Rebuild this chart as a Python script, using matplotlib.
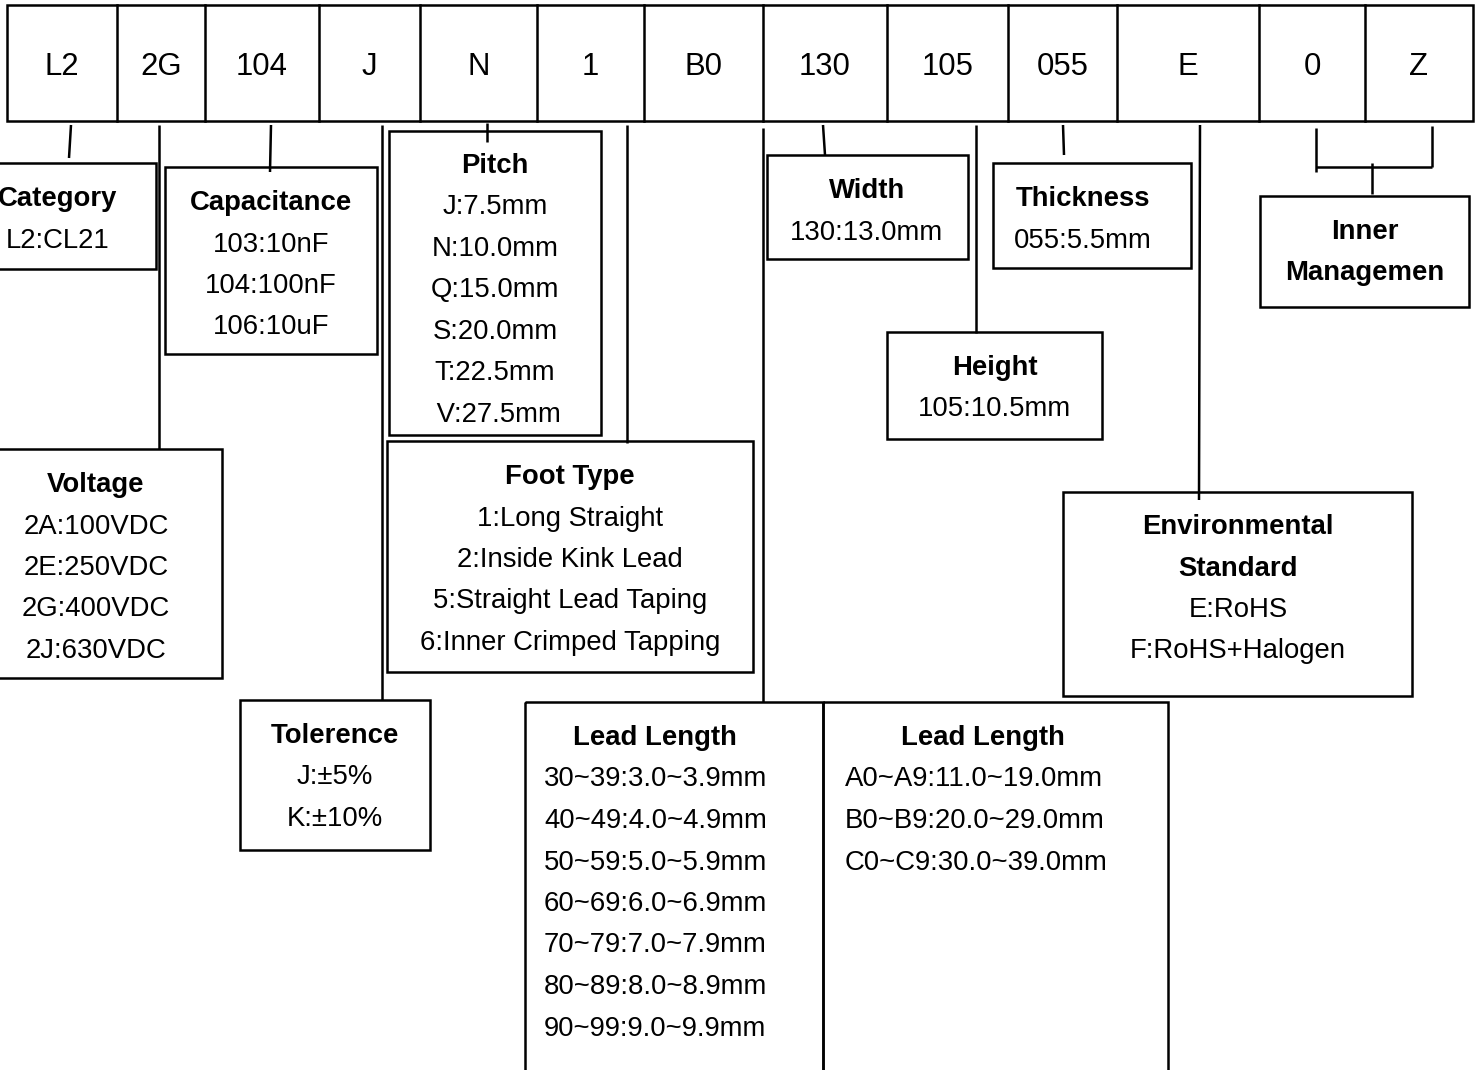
import matplotlib
matplotlib.use("Agg")
import matplotlib.pyplot as plt
from matplotlib.patches import Rectangle

plt.rcParams['font.family'] = ['Liberation Sans', 'DejaVu Sans']

# part number code, one entry per cell of the top row
codes = ["L2", "2G", "104", "J", "N", "1", "B0", "130", "105", "055", "E", "0", "Z"]

# legend boxes: titles and entries
category_title = ["Category"]
category_items = ["L2:CL21"]
capacitance_title = ["Capacitance"]
capacitance_items = ["103:10nF", "104:100nF", "106:10uF"]
voltage_title = ["Voltage"]
voltage_items = ["2A:100VDC", "2E:250VDC", "2G:400VDC", "2J:630VDC"]
pitch_title = ["Pitch"]
pitch_items = ["J:7.5mm", "N:10.0mm", "Q:15.0mm", "S:20.0mm", "T:22.5mm", " V:27.5mm"]
foot_title = ["Foot Type"]
foot_items = ["1:Long Straight", "2:Inside Kink Lead", "5:Straight Lead Taping",
              "6:Inner Crimped Tapping"]
tolerance_title = ["Tolerence"]
tolerance_items = ["J:\u00b15%", "K:\u00b110%"]
lead_title = ["Lead Length"]
lead_short_items = ["30~39:3.0~3.9mm", "40~49:4.0~4.9mm", "50~59:5.0~5.9mm",
                    "60~69:6.0~6.9mm", "70~79:7.0~7.9mm", "80~89:8.0~8.9mm",
                    "90~99:9.0~9.9mm"]
lead_long_items = ["A0~A9:11.0~19.0mm", "B0~B9:20.0~29.0mm", "C0~C9:30.0~39.0mm"]
width_title = ["Width"]
width_items = ["130:13.0mm"]
thickness_title = ["Thickness"]
thickness_items = ["055:5.5mm"]
height_title = ["Height"]
height_items = ["105:10.5mm"]
env_title = ["Environmental", "Standard"]
env_items = ["E:RoHS", "F:RoHS+Halogen"]
inner_title = ["Inner", "Managemen"]
inner_items = []

W, H = 1481, 1070
fig = plt.figure(figsize=(W / 100, H / 100), dpi=100)
ax = fig.add_axes([0, 0, 1, 1])
ax.set_xlim(0, W)
ax.set_ylim(H, 0)
ax.axis('off')

LW = 1.8
FS = 19.8
STEP = 41.5

# top row of cells
edges = [7, 117, 205, 319, 420, 537, 644, 763, 887, 1008, 1117, 1259, 1365, 1473]
top, bottom = 5, 121
ax.add_patch(Rectangle((edges[0], top), edges[-1] - edges[0], bottom - top,
                       fill=False, ec='black', lw=LW))
for e in edges[1:-1]:
    ax.plot([e, e], [top, bottom], color='black', lw=LW)
for i, c in enumerate(codes):
    ax.text((edges[i] + edges[i + 1]) / 2, 64 + 11, c, fontsize=22.4,
            ha='center', va='baseline')


def box(rect, title, items, tx, ty, items_x=None):
    x0, y0, x1, y1 = rect
    ax.add_patch(Rectangle((x0, y0), x1 - x0, y1 - y0, fill=False, ec='black',
                           lw=LW, clip_on=False))
    y = ty
    for t in title:
        ax.text(tx, y + 10, t, fontsize=FS, fontweight='bold', ha='center', va='baseline')
        y += STEP
    for t in items:
        if items_x is None:
            ax.text(tx, y + 10, t, fontsize=FS, ha='center', va='baseline')
        else:
            ax.text(items_x, y + 10, t, fontsize=FS, ha='left', va='baseline')
        y += STEP


box((-40, 163, 156, 269), category_title, category_items, 58, 196)
box((165, 167, 377, 354), capacitance_title, capacitance_items, 271, 200)
box((-30, 449, 222, 678), voltage_title, voltage_items, 96, 482)
box((389, 131, 601, 435), pitch_title, pitch_items, 495, 163)
box((387, 441, 753, 672), foot_title, foot_items, 570, 474)
box((240, 700, 430, 850), tolerance_title, tolerance_items, 335, 733)
box((525, 702, 823, 1085), lead_title, lead_short_items, 655, 735, items_x=544)
box((823, 702, 1168, 1085), lead_title, lead_long_items, 983, 735, items_x=845)
box((767, 155, 968, 259), width_title, width_items, 867, 188)
box((993, 163, 1191, 268), thickness_title, thickness_items, 1083, 196)
box((887, 332, 1102, 439), height_title, height_items, 995, 365)
box((1063, 492, 1412, 696), env_title, env_items, 1238, 524)
box((1260, 196, 1469, 307), inner_title, inner_items, 1365, 229)

# connector lines from cells to boxes
connectors = [
    ((71, 125), (69, 158)),
    ((159, 125), (159, 449)),
    ((271, 125), (270, 172)),
    ((382, 125), (382, 700)),
    ((487, 123), (487, 142)),
    ((627, 125), (627, 443)),
    ((763, 128), (763, 702)),
    ((823, 125), (825, 155)),
    ((976, 125), (976, 333)),
    ((1063, 125), (1064, 155)),
    ((1200, 125), (1199, 500)),
    ((1316, 128), (1316, 172)),
    ((1432, 126), (1432, 167)),
    ((1316, 167), (1432, 167)),
    ((1372, 163), (1372, 194)),
]
for (xa, ya), (xb, yb) in connectors:
    ax.plot([xa, xb], [ya, yb], color='black', lw=LW, solid_capstyle='butt')

fig.savefig("out.png", dpi=100, facecolor='white')
